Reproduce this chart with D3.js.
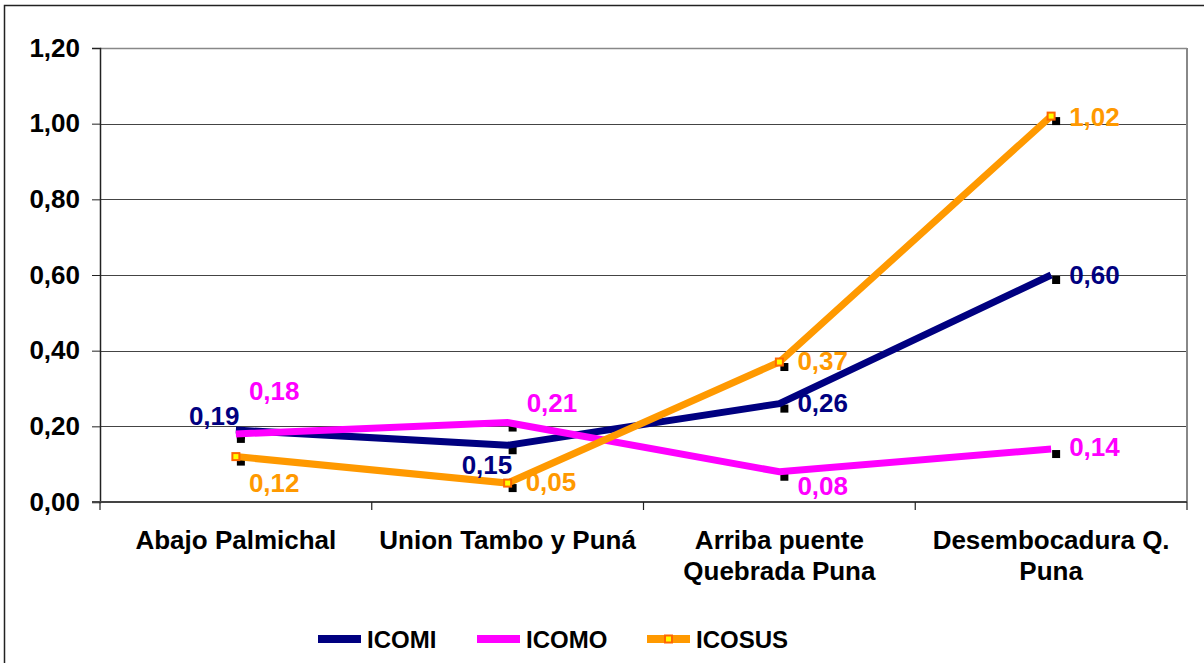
<!DOCTYPE html>
<html>
<head>
<meta charset="utf-8">
<script src="https://cdn.jsdelivr.net/npm/d3@7"></script>
<style>
  body { margin: 0; background: #fff; }
  svg text { font-family: Arial, "Liberation Sans", sans-serif; font-weight: bold; }
</style>
</head>
<body>
<svg id="chart" width="1204" height="663"></svg>
<script>
// Datos
const categories = [["Abajo Palmichal"], ["Union Tambo y Puná"], ["Arriba puente", "Quebrada Puna"], ["Desembocadura Q.", "Puna"]];
const icomi = [0.19, 0.15, 0.26, 0.60];
const icomo = [0.18, 0.21, 0.08, 0.14];
const icosus = [0.12, 0.05, 0.37, 1.02];
const yTicks = [0, 0.2, 0.4, 0.6, 0.8, 1.0, 1.2];

const series = [
    { name: "ICOMI", values: icomi, color: "#000080", marker: false },
    { name: "ICOMO", values: icomo, color: "#FF00FF", marker: false },
    { name: "ICOSUS", values: icosus, color: "#FF9900", marker: true }
];

// Posición de las etiquetas (dx, dy respecto al punto)
const labelOffsets = {
    ICOMI: [[-47, -14], [-46, 19], [18, -1], [18, 0]],
    ICOMO: [[13, -43], [19, -20], [18, 14], [18, -2]],
    ICOSUS: [[13, 26], [18, -1], [18, -1], [18, 1]]
};

const svg = d3.select("#chart");
const plotLeft = 100, plotRight = 1187, plotTop = 48, plotBottom = 502;
const fontSize = 26;
const fmt = v => d3.format(".2f")(v).replace(".", ",");

// marco exterior
svg.append("rect")
    .attr("x", 4.5).attr("y", 5.5)
    .attr("width", 1220).attr("height", 700)
    .attr("fill", "none").attr("stroke", "#222").attr("stroke-width", 1.5);

const x = d3.scaleBand().domain(d3.range(categories.length)).range([plotLeft, plotRight]);
const cx = i => x(i) + x.bandwidth() / 2;
const y = d3.scaleLinear().domain([0, 1.2]).range([plotBottom, plotTop]);

// rejilla
svg.append("g")
    .selectAll("line")
    .data(yTicks.slice(1))
    .enter().append("line")
    .attr("x1", plotLeft).attr("x2", plotRight)
    .attr("y1", d => Math.round(y(d)) + 0.5).attr("y2", d => Math.round(y(d)) + 0.5)
    .attr("stroke", "#444").attr("stroke-width", 1);

// borde del área de trazado
svg.append("line")
    .attr("x1", plotRight).attr("x2", plotRight).attr("y1", plotTop).attr("y2", plotBottom)
    .attr("stroke", "#888").attr("stroke-width", 2);
svg.append("line")
    .attr("x1", plotLeft).attr("x2", plotRight).attr("y1", plotTop + 0.5).attr("y2", plotTop + 0.5)
    .attr("stroke", "#888").attr("stroke-width", 1.5);

// eje Y
const yAxis = svg.append("g")
    .attr("transform", `translate(${plotLeft},0)`)
    .call(d3.axisLeft(y).tickValues(yTicks).tickSize(8).tickPadding(12).tickFormat(fmt));
yAxis.select(".domain").attr("stroke", "#222").attr("stroke-width", 1.5);
yAxis.selectAll(".tick line").attr("stroke", "#222");
yAxis.selectAll("text").attr("font-size", fontSize).attr("fill", "#000");

// eje X
svg.append("line")
    .attr("x1", plotLeft - 8).attr("x2", plotRight).attr("y1", plotBottom).attr("y2", plotBottom)
    .attr("stroke", "#444").attr("stroke-width", 2);
svg.append("g")
    .selectAll("line")
    .data(d3.range(categories.length + 1))
    .enter().append("line")
    .attr("x1", d => d < categories.length ? x(d) : plotRight)
    .attr("x2", d => d < categories.length ? x(d) : plotRight)
    .attr("y1", plotBottom).attr("y2", plotBottom + 8)
    .attr("stroke", "#222").attr("stroke-width", 1.2);

const catLabels = svg.append("g")
    .selectAll("text")
    .data(categories)
    .enter().append("text")
    .attr("text-anchor", "middle")
    .attr("font-size", fontSize)
    .attr("fill", "#000");
catLabels.each(function (d, i) {
    d3.select(this).selectAll("tspan")
        .data(d)
        .enter().append("tspan")
        .attr("x", cx(i))
        .attr("y", (t, j) => 549 + j * 31)
        .text(t => t);
});

// sombras de los marcadores
const shadowG = svg.append("g");
series.forEach(s => {
    shadowG.selectAll(null)
        .data(s.values)
        .enter().append("rect")
        .attr("x", (d, i) => cx(i) + 1)
        .attr("y", d => y(d) + 1)
        .attr("width", 8).attr("height", 8)
        .attr("fill", "#000");
});

// líneas
const line = d3.line().x((d, i) => cx(i)).y(d => y(d));
series.forEach(s => {
    svg.append("path")
        .datum(s.values)
        .attr("d", line)
        .attr("fill", "none")
        .attr("stroke", s.color)
        .attr("stroke-width", 7)
        .attr("stroke-linejoin", "miter");
    if (s.marker) {
        svg.append("g").selectAll("rect")
            .data(s.values)
            .enter().append("rect")
            .attr("x", (d, i) => cx(i) - 3.5)
            .attr("y", d => y(d) - 3.5)
            .attr("width", 7).attr("height", 7)
            .attr("fill", "#FFFF00")
            .attr("stroke", "#FF6600")
            .attr("stroke-width", 2);
    }
});

// etiquetas de datos
series.forEach(s => {
    svg.append("g").selectAll("text")
        .data(s.values)
        .enter().append("text")
        .attr("x", (d, i) => cx(i) + labelOffsets[s.name][i][0])
        .attr("y", (d, i) => y(d) + labelOffsets[s.name][i][1])
        .attr("dy", "0.36em")
        .attr("font-size", fontSize)
        .attr("fill", s.color)
        .text(fmt);
});

// leyenda
const legendX = [318, 477, 647];
const legend = svg.append("g")
    .selectAll("g")
    .data(series)
    .enter().append("g")
    .attr("transform", (d, i) => `translate(${legendX[i]},639)`);
legend.append("line")
    .attr("x1", 0).attr("x2", 43)
    .attr("stroke", d => d.color).attr("stroke-width", 8);
legend.filter(d => d.marker).append("rect")
    .attr("x", 18).attr("y", -3.5).attr("width", 7).attr("height", 7)
    .attr("fill", "#FFFF00").attr("stroke", "#FF6600").attr("stroke-width", 2);
legend.append("text")
    .attr("x", 49).attr("dy", "0.36em")
    .attr("font-size", 24).attr("fill", "#000")
    .text(d => d.name);
</script>
</body>
</html>
